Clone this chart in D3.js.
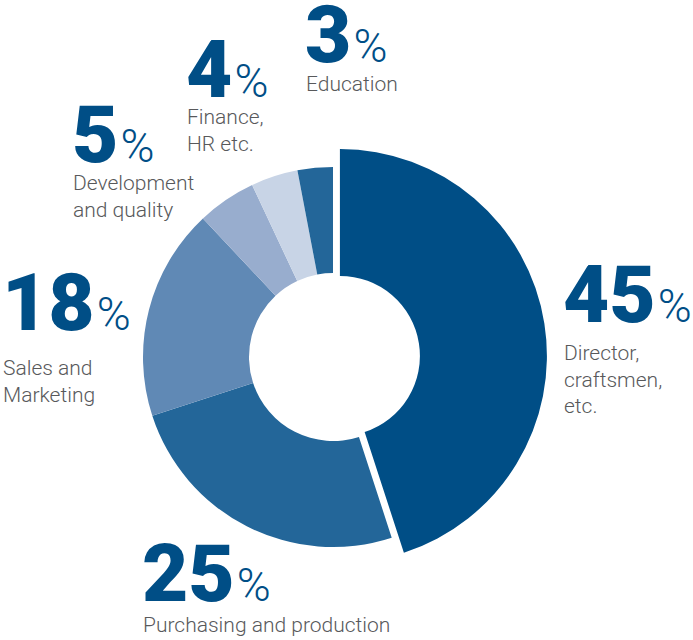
<!DOCTYPE html>
<html>
<head>
<meta charset="utf-8">
<script src="https://cdn.jsdelivr.net/npm/d3@7"></script>
<style>
  html, body { margin: 0; padding: 0; background: #fff; }
  svg { display: block; }
  text { font-family: Roboto, "Noto Sans", sans-serif; }
</style>
</head>
<body>
<svg id="chart" width="693" height="640"></svg>
<script>
// ---- data ----
const categories = [
  "Director, craftsmen, etc.",
  "Purchasing and production",
  "Sales and Marketing",
  "Development and quality",
  "Finance, HR etc.",
  "Education"
];
const labelLines = [
  ["Director,", "craftsmen,", "etc."],
  ["Purchasing and production"],
  ["Sales and", "Marketing"],
  ["Development", "and quality"],
  ["Finance,", "HR etc."],
  ["Education"]
];
const values = [45, 25, 18, 5, 4, 3];
const colors = ["#004e86", "#236699", "#6089b5", "#98adce", "#c8d4e6", "#236699"];

// ---- layout (positions of label blocks: number baseline, label first baseline) ----
const layout = [
  { x: 563, numY: 322, labY: 360 },
  { x: 142, numY: 601, labY: 632 },
  { x: 2,   numY: 330, labY: 375 },
  { x: 72,  numY: 162, labY: 190 },
  { x: 186, numY: 97,  labY: 124 },
  { x: 305, numY: 62,  labY: 91 }
];

const svg = d3.select("#chart");
const cx = 333, cy = 357;
const rOuter = 190, rInner = 84;
const explodeIdx = 0, explodeDist = 7, rOuterBig = 207, rInnerBig = 80;

const pie = d3.pie().sort(null).value(d => d).startAngle(0).endAngle(2 * Math.PI);
const arcs = pie(values);

const arcNormal = d3.arc().innerRadius(rInner).outerRadius(rOuter);
const arcBig = d3.arc().innerRadius(rInnerBig).outerRadius(rOuterBig);

const g = svg.append("g").attr("transform", `translate(${cx},${cy})`);
g.selectAll("path")
  .data(arcs)
  .join("path")
  .attr("fill", (d, i) => colors[i])
  .attr("d", (d, i) => i === explodeIdx ? arcBig(d) : arcNormal(d))
  .attr("transform", (d, i) => {
    if (i !== explodeIdx) return null;
    const mid = (d.startAngle + d.endAngle) / 2;
    return `translate(${Math.sin(mid) * explodeDist},${-Math.cos(mid) * explodeDist})`;
  });

// ---- labels ----
const lab = svg.append("g");
values.forEach((v, i) => {
  const L = layout[i];
  const t = lab.append("text")
    .attr("x", L.x).attr("y", L.numY)
    .attr("fill", "#004e86");
  t.append("tspan")
    .attr("font-size", 80).attr("font-weight", 900)
    .text(v);
  t.append("tspan")
    .attr("font-size", 46).attr("font-weight", 300).attr("dx", 2)
    .text("%");
  const lt = lab.append("text")
    .attr("x", L.x + 1).attr("y", L.labY)
    .attr("fill", "#58595b")
    .attr("font-size", 21).attr("font-weight", 300);
  labelLines[i].forEach((line, j) => {
    lt.append("tspan").attr("x", L.x + 1).attr("dy", j === 0 ? 0 : 26.5).text(line);
  });
});
</script>
</body>
</html>
